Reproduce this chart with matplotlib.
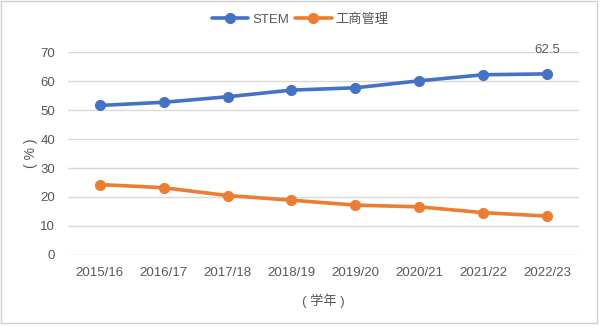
import matplotlib
matplotlib.use('Agg')
import matplotlib.pyplot as plt
from matplotlib.patches import Rectangle

plt.rcParams['font.family'] = ['Liberation Sans', 'Noto Sans CJK SC', 'DejaVu Sans']

# academic years and share of students (%)
years = ['2015/16', '2016/17', '2017/18', '2018/19', '2019/20', '2020/21', '2021/22', '2022/23']
stem = [51.6, 52.7, 54.6, 56.9, 57.7, 60.1, 62.2, 62.5]
business = [24.3, 23.2, 20.5, 18.9, 17.2, 16.6, 14.6, 13.4]

text_gray = '#595959'
blue = '#4472C4'
orange = '#ED7D31'

fig = plt.figure(figsize=(6.0, 3.26), dpi=100)
ax = fig.add_axes([0.113, 0.218, 0.852, 0.622])

x = list(range(len(years)))
ax.plot(x, stem, color=blue, lw=2.6, marker='o', ms=7, label='STEM', solid_capstyle='round')
ax.plot(x, business, color=orange, lw=2.6, marker='o', ms=7, label='工商管理', solid_capstyle='round')

# value label on the last STEM point
ax.annotate(f'{stem[-1]}', (x[-1], stem[-1]), xytext=(0, 13), textcoords='offset points',
            ha='center', va='bottom', fontsize=9.5, color=text_gray)

ax.set_xlim(-0.5, len(years) - 0.5)
ax.set_ylim(0, 70)
ax.set_yticks(range(0, 71, 10))
ax.set_xticks(x)
ax.set_xticklabels(years)
ax.tick_params(length=0, labelsize=9.5, labelcolor=text_gray, pad=9)
ax.grid(axis='y', color='#D9D9D9', lw=1)
ax.set_axisbelow(True)
for s in ax.spines.values():
    s.set_visible(False)

ax.set_xlabel('( 学年 )', fontsize=9.5, color=text_gray, labelpad=10)
ax.set_ylabel('( % )', fontsize=10, color=text_gray, labelpad=2)

fig.legend(loc='upper center', bbox_to_anchor=(0.5, 0.995), ncol=2, frameon=False,
           fontsize=9.5, handlelength=2.8, handletextpad=0.3, columnspacing=0.4,
           labelcolor=text_gray)

# thin frame round the whole chart
fig.patches.append(Rectangle((1 / 600, 3 / 326), 596 / 600, 322 / 326, transform=fig.transFigure,
                             fill=False, edgecolor='#D0D0D0', lw=1))

fig.savefig('out.png', dpi=100, facecolor='white')
